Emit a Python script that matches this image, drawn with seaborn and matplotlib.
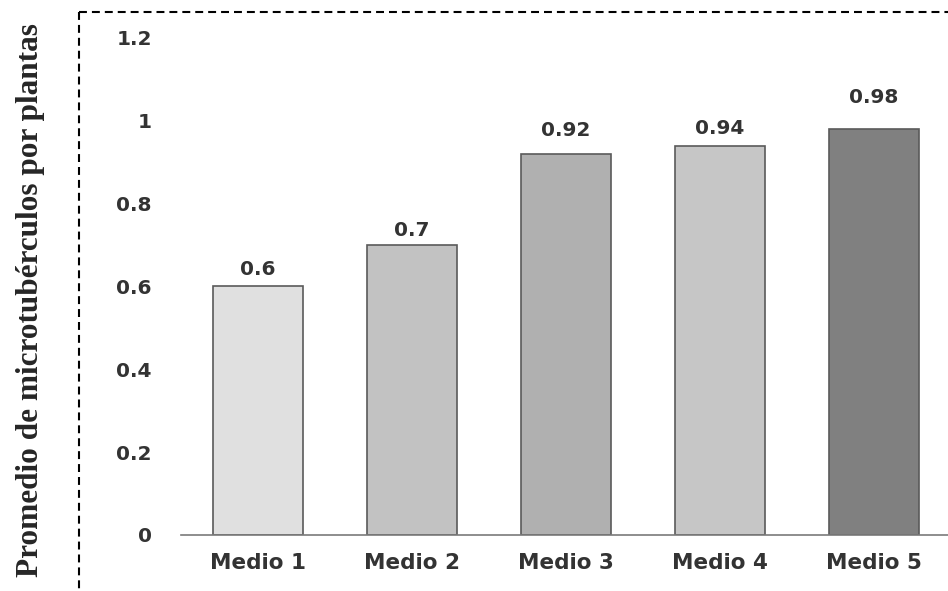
import matplotlib
matplotlib.use("Agg")
import matplotlib.pyplot as plt
import matplotlib.lines as mlines
import numpy as np
import pandas as pd
import seaborn as sns

# data
categories = ["Medio 1", "Medio 2", "Medio 3", "Medio 4", "Medio 5"]
values = [0.6, 0.7, 0.92, 0.94, 0.98]
value_labels = ["0.6", "0.7", "0.92", "0.94", "0.98"]
bar_colors = ["#e0e0e0", "#c2c2c2", "#b0b0b0", "#c6c6c6", "#808080"]
y_ticks = [0, 0.2, 0.4, 0.6, 0.8, 1.0, 1.2]
y_tick_labels = ["0", "0.2", "0.4", "0.6", "0.8", "1", "1.2"]
# the labels don't sit at a constant height above the bars in the original
label_offsets = [0.017, 0.012, 0.034, 0.019, 0.053]

df = pd.DataFrame({"medio": categories, "valor": values})

sns.set_style("white")
plt.rcParams["font.family"] = ["DejaVu Sans"]

fig = plt.figure(figsize=(9.48, 5.91), dpi=100)
ax = fig.add_axes([0.191, 0.0948, 0.812, 0.841])

sns.barplot(data=df, x="medio", y="valor", hue="medio", palette=bar_colors,
            width=0.58, edgecolor="#5a5a5a", linewidth=1.2, legend=False,
            saturation=1, ax=ax)

ax.set_ylim(0, 1.2)
ax.set_xlim(-0.5, 4.5)
ax.set_yticks(y_ticks)
ax.set_yticklabels(y_tick_labels)
ax.set_xlabel("")
ax.set_ylabel("")

for lbl in ax.get_xticklabels():
    lbl.set_fontweight("bold")
    lbl.set_color("#333333")
    lbl.set_fontsize(15.5)
for lbl in ax.get_yticklabels():
    lbl.set_fontweight("bold")
    lbl.set_color("#333333")
    lbl.set_fontsize(14.5)
ax.tick_params(axis="x", length=0, pad=13)
ax.tick_params(axis="y", length=0, pad=21)

for s in ["top", "right", "left"]:
    ax.spines[s].set_visible(False)
ax.spines["bottom"].set_color("#7a7a7a")
ax.spines["bottom"].set_linewidth(1.2)

# value labels above bars
for i, (v, t, off) in enumerate(zip(values, value_labels, label_offsets)):
    ax.text(i, v + off, t, ha="center", va="bottom", fontsize=14.5,
            fontweight="bold", color="#333333")

# dashed frame (top and left edges)
fig.add_artist(mlines.Line2D([0.0833, 1.0], [0.980, 0.980], color="black",
                             linestyle=(0, (3.8, 2.4)), linewidth=1.5,
                             transform=fig.transFigure))
fig.add_artist(mlines.Line2D([0.0833, 0.0833], [0.980, 0.0], color="black",
                             linestyle=(0, (3.8, 2.4)), linewidth=1.5,
                             transform=fig.transFigure))

fig.text(0.032, 0.492, "Promedio de microtubérculos por plantas",
         rotation=90, ha="center", va="center", fontsize=22.5,
         fontweight="bold", family=["Liberation Serif", "DejaVu Serif"])

fig.savefig("out.png", dpi=100)
